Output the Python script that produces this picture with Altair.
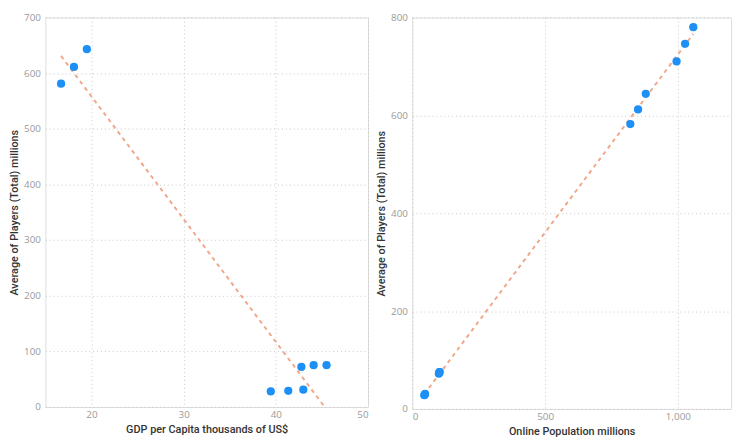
import altair as alt
import pandas as pd

# Left panel: GDP per capita vs players
gdp = [16.7, 18.1, 19.5, 39.45, 41.35, 42.98, 42.77, 44.1, 45.5]
players_gdp = [581, 611, 643, 28, 29, 31, 72, 75, 75]

# Right panel: online population vs players
online = [45, 47, 48, 100, 102, 103, 821, 850, 879, 995, 1027, 1058]
players_online = [28, 29, 31, 72, 75, 75, 582, 612, 644, 710, 746, 780]

left_df = pd.DataFrame({"x": gdp, "y": players_gdp})
right_df = pd.DataFrame({"x": online, "y": players_online})

POINT = "#1E90F5"
TREND = "#EFA889"
LABEL_FONT = "Open Sans"
TITLE_FONT = "Roboto"


def axis(title, values, fmt, lp=4, tp=4):
    return alt.Axis(
        title=title,
        values=values,
        format=fmt,
        grid=True,
        gridDash=[1, 3],
        gridColor="#C8C8C8",
        gridWidth=1,
        domain=False,
        ticks=False,
        labelColor="#9A9A9A",
        labelFont=LABEL_FONT,
        labelFontSize=10,
        labelPadding=lp,
        titleColor="#333333",
        titleFont=TITLE_FONT,
        titleFontSize=11,
        titleFontWeight=500,
        titlePadding=tp,
    )


def panel(df, xtitle, xdom, xvals, xfmt, ydom, yvals, w, h):
    x = alt.X("x:Q", scale=alt.Scale(domain=xdom, nice=False, zero=False),
              axis=axis(xtitle, xvals, xfmt, lp=3, tp=4))
    y = alt.Y("y:Q", scale=alt.Scale(domain=ydom, nice=False),
              axis=axis("Average of Players (Total) millions", yvals, "d", lp=5, tp=4))
    base = alt.Chart(df)
    trend = base.transform_regression("x", "y").mark_line(
        color=TREND, strokeDash=[4, 4], strokeWidth=2, clip=True
    ).encode(x=x, y=y)
    pts = base.mark_circle(size=70, color=POINT, opacity=1).encode(x=x, y=y)
    return alt.layer(trend, pts).properties(width=w, height=h)


left = panel(left_df, "GDP per Capita thousands of US$", [15, 50], [20, 30, 40, 50], "d",
             [0, 700], [0, 100, 200, 300, 400, 500, 600, 700], 328, 396)
right = panel(right_df, "Online Population millions", [0, 1200], [0, 500, 1000], ",d",
              [0, 800], [0, 200, 400, 600, 800], 324, 398)

chart = alt.hconcat(left, right, spacing=6).configure_view(stroke=None).configure(
    background="white", padding={"left": 0, "top": 0, "right": 0, "bottom": 0}
)

chart.save("out.html", embed_options={"renderer": "svg", "actions": False})
